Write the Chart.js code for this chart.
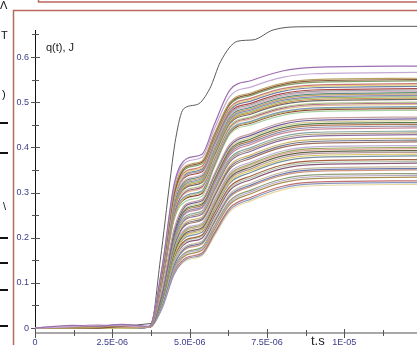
<!DOCTYPE html>
<html>
<head>
<meta charset="utf-8">
<script src="https://cdn.jsdelivr.net/npm/chart.js@4/dist/chart.umd.min.js"></script>
<style>
  html, body { margin: 0; padding: 0; background: #fff; }
  #wrap { width: 417px; height: 345px; position: relative; }
</style>
</head>
<body>
<div id="wrap"><canvas id="chart" width="417" height="345"></canvas></div>
<script>
// time grid, microseconds (axis labels are in seconds)
const T_US = [0, 1.2, 2.0, 2.8, 3.7, 4.1, 4.5, 4.9, 5.4, 5.8, 6.3, 7.0, 8.0, 9.0, 12.35];

// q(t), J — one row per curve
const CURVES = [
  [0, .006, .004, .008, .004, .131, .319, .375, .385, .451, .527, .548, .569, .577, .580],
  [0, .003, .007, .005, .003, .129, .313, .368, .378, .441, .513, .534, .555, .563, .566],
  [0, 0, .002, .006, .003, .126, .306, .360, .370, .430, .500, .521, .542, .550, .553],
  [0, 0, 0, .003, .003, .118, .296, .357, .367, .428, .497, .518, .539, .547, .550],
  [0, 0, 0, .004, .003, .124, .301, .354, .364, .424, .494, .515, .536, .544, .547],
  [0, .002, .005, .003, .003, .122, .296, .348, .358, .418, .488, .509, .530, .538, .541],
  [0, 0, 0, 0, .003, .115, .290, .345, .355, .416, .485, .506, .527, .535, .538],
  [0, 0, .003, .007, .003, .120, .291, .342, .352, .412, .482, .503, .524, .532, .535],
  [0, .002, 0, .004, .003, .112, .284, .339, .349, .405, .474, .495, .516, .524, .527],
  [0, 0, 0, .005, .003, .118, .286, .336, .346, .407, .477, .498, .519, .527, .530],
  [0, 0, .004, .002, .003, .116, .281, .330, .340, .401, .471, .492, .513, .521, .524],
  [0, 0, 0, 0, .003, .108, .275, .327, .337, .398, .468, .489, .510, .518, .521],
  [0, 0, 0, .006, .003, .113, .275, .324, .334, .395, .465, .486, .507, .515, .518],
  [0, 0, 0, .002, .003, .106, .270, .321, .331, .392, .462, .483, .504, .512, .515],
  [0, 0, .002, .004, .003, .111, .270, .318, .328, .389, .459, .480, .501, .509, .512],
  [0, 0, .003, 0, .003, .104, .265, .315, .325, .386, .456, .477, .498, .506, .509],
  [0, 0, 0, .003, .003, .109, .265, .312, .322, .383, .453, .474, .495, .503, .506],
  [0, .001, .003, .006, .003, .107, .260, .306, .316, .377, .447, .468, .489, .497, .500],
  [0, 0, 0, .005, .003, .100, .255, .303, .313, .374, .445, .466, .487, .495, .498],
  [0, 0, 0, .004, .003, .105, .255, .300, .310, .371, .442, .463, .484, .492, .495],
  [0, 0, .002, .005, .003, .103, .250, .294, .304, .366, .437, .458, .479, .487, .490],
  [0, 0, 0, 0, .003, .096, .245, .291, .301, .363, .435, .456, .477, .485, .488],
  [0, 0, 0, .003, .003, .101, .245, .288, .298, .361, .433, .454, .475, .483, .486],
  [0, 0, .003, .006, .003, .099, .240, .282, .292, .356, .429, .450, .471, .479, .482],
  [0, 0, 0, .004, .002, .083, .220, .275, .285, .341, .407, .431, .455, .464, .467],
  [0, 0, 0, .004, .002, .076, .212, .272, .282, .338, .403, .427, .451, .460, .463],
  [0, 0, .002, .003, .002, .080, .214, .268, .278, .334, .399, .423, .447, .456, .459],
  [0, 0, 0, .002, .002, .074, .207, .265, .275, .330, .395, .419, .443, .452, .455],
  [0, 0, 0, .005, .002, .079, .210, .262, .272, .327, .391, .415, .439, .448, .451],
  [0, 0, .002, 0, .002, .072, .201, .258, .268, .323, .387, .411, .435, .444, .447],
  [0, 0, .001, .004, .002, .077, .204, .255, .265, .319, .383, .407, .431, .440, .443],
  [0, 0, 0, .006, .002, .075, .199, .249, .259, .313, .376, .400, .424, .433, .436],
  [0, 0, 0, .003, .002, .069, .191, .245, .255, .309, .372, .396, .420, .429, .432],
  [0, 0, .003, .003, .002, .073, .194, .242, .252, .305, .368, .392, .416, .425, .428],
  [0, 0, 0, .005, .002, .071, .189, .236, .246, .298, .360, .384, .408, .417, .420],
  [0, 0, 0, 0, .002, .065, .181, .232, .242, .294, .356, .380, .404, .413, .416],
  [0, 0, .002, .004, .002, .069, .183, .229, .239, .291, .352, .376, .400, .409, .412],
  [0, 0, 0, .003, .002, .067, .178, .222, .232, .283, .344, .368, .392, .401, .404],
  [0, 0, .002, .005, .002, .061, .171, .219, .229, .280, .340, .364, .388, .397, .400],
  [0, 0, 0, .006, .002, .065, .173, .216, .226, .277, .337, .361, .385, .394, .397],
  [0, 0, .003, 0, .002, .059, .166, .212, .222, .273, .333, .357, .381, .390, .393],
  [0, 0, .002, .004, .002, .063, .167, .209, .219, .269, .329, .353, .377, .386, .389],
  [0, 0, 0, 0, .002, .058, .161, .206, .216, .266, .325, .349, .373, .382, .385],
  [0, 0, 0, .005, .002, .061, .162, .202, .212, .262, .321, .345, .369, .378, .381],
  [0, 0, 0, .003, .002, .059, .157, .196, .206, .255, .313, .337, .361, .370, .373],
  [0, 0, 0, .004, .002, .054, .151, .193, .203, .251, .309, .333, .357, .366, .369],
  [0, 0, .003, .006, .002, .057, .151, .189, .199, .247, .305, .329, .353, .362, .365],
  [0, 0, 0, .004, .002, .055, .146, .182, .192, .240, .297, .321, .345, .354, .357],
  [0, 0, .001, 0, .002, .050, .140, .179, .189, .236, .293, .317, .341, .350, .353],
  [0, 0, 0, .005, .002, .053, .141, .176, .186, .233, .290, .314, .338, .347, .350],
  [0, 0, .002, .003, .002, .051, .135, .169, .179, .226, .282, .306, .330, .339, .342],
  [0, 0, 0, .003, .002, .046, .130, .166, .176, .222, .278, .302, .326, .335, .338],
  [0, 0, 0, .006, .002, .049, .130, .162, .172, .218, .274, .298, .322, .331, .334],
  [0, 0, 0, .004, .002, .047, .125, .156, .166, .211, .266, .290, .314, .323, .326],
  [0, 0, 0, 0, .002, .042, .119, .153, .163, .208, .262, .286, .310, .319, .322],
  [0, 0, .001, .005, .002, .045, .120, .150, .160, .204, .258, .282, .306, .315, .318]
];

const CURVE_COLORS = [
  '#9b6fb0', '#c4a8d4', '#b8a060', '#8c5a3c', '#7fa36a', '#c97a7a', '#e6d27a', '#6e7fa8', '#a0a0a0',
  '#b04848', '#d8b4c8', '#5f8f7f', '#caa46a', '#8a8ac0', '#9cbc6c', '#d09050', '#6a6a6a', '#b8c890',
  '#a85a8a', '#e0c090', '#7a9ab8', '#c0c070', '#904030', '#a8d0a0', '#c8a0a0', '#7060a0', '#d8d098',
  '#5a7a50', '#b07850', '#9090b0', '#cc8899', '#88a8a0', '#b0a080', '#8e6e9e', '#d4b870', '#707890',
  '#a07060', '#c0b0d8', '#98a858', '#e0a8a0', '#606848', '#b898a0', '#d8c860', '#7890a0', '#a86040',
  '#b0c8b0', '#885878', '#c8b8a0', '#6878b0', '#d09878', '#90a078', '#b8a8c8', '#a89050', '#c07070',
  '#8898c0', '#e8d8a0'
];

// the single upper (dark) curve
const TOP_T = [0, 3.75, 4.05, 4.37, 4.55, 4.8, 5.25, 5.65, 6.0, 6.55, 7.05, 7.7, 8.6, 12.35];
const TOP_Q = [0, 0.01, 0.15, 0.33, 0.42, 0.485, 0.495, 0.53, 0.59, 0.635, 0.638, 0.66, 0.667, 0.668];

const X_TICKS = [0, 2.5, 5, 7.5, 10];
const X_LABELS = ['0', '2.5E-06', '5.0E-06', '7.5E-06', '1E-05'];
const X_MINOR = [1.25, 3.75, 6.25, 8.75, 11.25];
const Y_TICKS = [0, 0.1, 0.2, 0.3, 0.4, 0.5, 0.6];
const Y_LABELS = ['0', '0.1', '0.2', '0.3', '0.4', '0.5', '0.6'];
const Y_MINOR = [0.05, 0.15, 0.25, 0.35, 0.45, 0.55, 0.65];

const FONT = 'Arial, "Liberation Sans", sans-serif';

const datasets = CURVES.map((row, i) => ({
  data: T_US.map((t, j) => ({ x: t, y: row[j] })),
  borderColor: CURVE_COLORS[i % CURVE_COLORS.length],
  borderWidth: 1.2,
  pointRadius: 0,
  cubicInterpolationMode: 'monotone'
}));
datasets.push({
  data: TOP_T.map((t, j) => ({ x: t, y: TOP_Q[j] })),
  borderColor: '#5a5a5a',
  borderWidth: 1,
  pointRadius: 0,
  cubicInterpolationMode: 'monotone'
});

// axes, cross ticks, labels, frame and loose page marks
const decor = {
  id: 'decor',
  beforeDatasetsDraw(chart) {
    const { ctx, scales: { x, y } } = chart;
    const x0 = x.getPixelForValue(0);
    ctx.save();
    // x axis (grey)
    ctx.strokeStyle = '#a8a8a8';
    ctx.lineWidth = 2;
    ctx.beginPath(); ctx.moveTo(x0, 333); ctx.lineTo(417, 333); ctx.stroke();
    // y axis (black)
    ctx.strokeStyle = '#111';
    ctx.lineWidth = 1;
    ctx.beginPath(); ctx.moveTo(x0 + 0.5, 30); ctx.lineTo(x0 + 0.5, 337); ctx.stroke();
    ctx.strokeStyle = '#555';
    Y_TICKS.forEach(v => {
      const py = Math.round(y.getPixelForValue(v)) + 0.5;
      ctx.beginPath(); ctx.moveTo(x0 - 4, py); ctx.lineTo(x0 + 5, py); ctx.stroke();
    });
    Y_MINOR.forEach(v => {
      const py = Math.round(y.getPixelForValue(v)) + 0.5;
      ctx.beginPath(); ctx.moveTo(x0 - 3, py); ctx.lineTo(x0 + 4, py); ctx.stroke();
    });
    X_TICKS.forEach(v => {
      const px = Math.round(x.getPixelForValue(v)) + 0.5;
      ctx.beginPath(); ctx.moveTo(px, 329); ctx.lineTo(px, 338); ctx.stroke();
    });
    X_MINOR.forEach(v => {
      const px = Math.round(x.getPixelForValue(v)) + 0.5;
      ctx.beginPath(); ctx.moveTo(px, 330); ctx.lineTo(px, 336); ctx.stroke();
    });
    // tick labels
    ctx.fillStyle = '#3c3c88';
    ctx.font = '9px ' + FONT;
    ctx.textAlign = 'right';
    ctx.textBaseline = 'middle';
    Y_TICKS.forEach((v, i) => ctx.fillText(Y_LABELS[i], 29, y.getPixelForValue(v)));
    ctx.textAlign = 'center';
    ctx.textBaseline = 'top';
    X_TICKS.forEach((v, i) => ctx.fillText(X_LABELS[i], x.getPixelForValue(v), 338));
    ctx.restore();
  },
  afterDraw(chart) {
    const { ctx } = chart;
    ctx.save();
    // brown frame of the panel and the one above
    ctx.strokeStyle = '#b96a5c';
    ctx.lineWidth = 1.5;
    ctx.beginPath(); ctx.moveTo(13.5, 345); ctx.lineTo(13.5, 10.5); ctx.lineTo(417, 10.5); ctx.stroke();
    ctx.beginPath(); ctx.moveTo(38.5, 0); ctx.lineTo(38.5, 2); ctx.lineTo(417, 2); ctx.stroke();
    // cut-off marks at the page's left edge
    ctx.fillStyle = '#111';
    [122, 152, 237, 262, 289, 325].forEach(py => ctx.fillRect(0, py, 8, 2));
    ctx.font = '11px ' + FONT;
    ctx.textBaseline = 'middle';
    ctx.fillText('Λ', 0, 6);
    ctx.fillText('T', 1, 36);
    ctx.fillText(')', 2, 95);
    ctx.fillText('\\', 3, 207);
    // axis titles
    ctx.fillStyle = '#222';
    ctx.font = '11px ' + FONT;
    ctx.fillText('q(t), J', 46, 48);
    ctx.font = '13px ' + FONT;
    ctx.textBaseline = 'top';
    ctx.fillText('t,s', 311, 335);
    ctx.restore();
  }
};

new Chart(document.getElementById('chart'), {
  type: 'line',
  data: { datasets },
  plugins: [decor],
  options: {
    responsive: false,
    animation: false,
    events: [],
    layout: { padding: { top: 20, left: 0, right: 0, bottom: 0 } },
    plugins: { legend: { display: false }, tooltip: { enabled: false } },
    scales: {
      x: {
        type: 'linear',
        min: 0,
        max: 12.35,
        grid: { display: false },
        border: { display: false },
        ticks: { display: false },
        afterFit: s => { s.height = 12; }
      },
      y: {
        min: -0.011,
        max: 0.682,
        grid: { display: false },
        border: { display: false },
        ticks: { display: false },
        afterFit: s => { s.width = 35; }
      }
    }
  }
});
</script>
</body>
</html>
